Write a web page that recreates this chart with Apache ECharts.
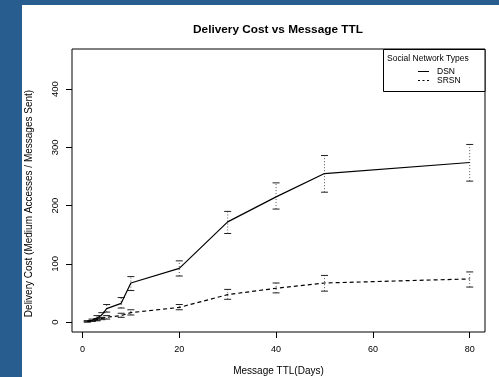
<!DOCTYPE html>
<html>
<head>
<meta charset="utf-8">
<script src="https://cdn.jsdelivr.net/npm/echarts@6/dist/echarts.min.js"></script>
<style>
html,body{margin:0;padding:0;background:#fff;}
#chart{width:499px;height:377px;}
</style>
</head>
<body>
<div id="chart"></div>
<script>
// ---- data ----
var ttlDays = [1, 2, 3, 4, 5, 8, 10, 20, 30, 40, 50, 80];
var dsnCost = [1, 3, 7, 12, 23, 32, 67, 92, 172, 215, 255, 274];
var dsnLow  = [0, 1, 3, 7, 17, 24, 54, 79, 152, 194, 223, 242];
var dsnHigh = [2, 5, 11, 16, 30, 42, 78, 105, 190, 239, 286, 305];
var srsnCost = [1, 2, 4, 6, 8, 11, 16, 25, 47, 58, 67, 74];
var srsnLow  = [0, 1, 2, 4, 5, 8, 12, 21, 39, 50, 53, 60];
var srsnHigh = [2, 3, 6, 8, 11, 15, 21, 30, 56, 67, 80, 86];
var xTicks = [0, 20, 40, 60, 80];
var yTicks = [0, 100, 200, 300, 400];
var legendNames = ['DSN', 'SRSN'];

var FONT = '"Liberation Sans", Arial, sans-serif';

function pairs(xs, ys) { return xs.map(function (x, i) { return [x, ys[i]]; }); }
function errData(xs, lo, hi) { return xs.map(function (x, i) { return [x, lo[i], hi[i]]; }); }

function renderErr(params, api) {
  var x = api.value(0);
  var lo = api.coord([x, api.value(1)]);
  var hi = api.coord([x, api.value(2)]);
  var w = 3.5;
  return {
    type: 'group',
    children: [
      { type: 'line', shape: { x1: lo[0], y1: lo[1], x2: hi[0], y2: hi[1] },
        style: { stroke: '#555', lineWidth: 1, lineDash: [1, 2] } },
      { type: 'line', shape: { x1: hi[0] - w, y1: hi[1], x2: hi[0] + w, y2: hi[1] },
        style: { stroke: '#222', lineWidth: 1 } },
      { type: 'line', shape: { x1: lo[0] - w, y1: lo[1], x2: lo[0] + w, y2: lo[1] },
        style: { stroke: '#222', lineWidth: 1 } }
    ]
  };
}

var chart = echarts.init(document.getElementById('chart'), null, { renderer: 'canvas' });
chart.setOption({
  backgroundColor: '#fff',
  animation: false,
  textStyle: { fontFamily: FONT },
  title: {
    text: 'Delivery Cost vs Message TTL',
    left: 273, top: 19, textAlign: 'center',
    textStyle: { fontFamily: FONT, fontSize: 11.8, fontWeight: 'bold', color: '#000' }
  },
  grid: { left: 72, top: 49, right: 14, bottom: 45, outerBoundsMode: 'none', containLabel: false,
          show: true, borderColor: '#000', borderWidth: 1, backgroundColor: 'transparent' },
  xAxis: {
    type: 'value', min: -2.16, max: 83.16,
    name: 'Message TTL(Days)', nameLocation: 'middle', nameGap: 34,
    nameTextStyle: { fontFamily: FONT, fontSize: 10, color: '#000' },
    axisLine: { show: false, onZero: false },
    splitLine: { show: false },
    axisTick: { show: true, inside: false, length: 6, customValues: xTicks, lineStyle: { color: '#000' } },
    axisLabel: { customValues: xTicks, margin: 13, fontFamily: FONT, fontSize: 9, color: '#000' }
  },
  yAxis: {
    type: 'value', min: -17.2, max: 469,
    name: 'Delivery Cost (Medium Accesses / Messages Sent)', nameLocation: 'middle', nameGap: 38,
    nameTextStyle: { fontFamily: FONT, fontSize: 10, color: '#000', padding: [0, 26, 0, 0] },
    axisLine: { show: false, onZero: false },
    splitLine: { show: false },
    axisTick: { show: true, inside: false, length: 6, customValues: yTicks, lineStyle: { color: '#000' } },
    axisLabel: { customValues: yTicks, rotate: 90, margin: 12, fontFamily: FONT, fontSize: 9.5, color: '#000' }
  },
  graphic: [
    { type: 'rect', shape: { x: 0, y: 0, width: 22, height: 377 }, style: { fill: '#275d8f' }, z: 100 },
    { type: 'rect', shape: { x: 0, y: 0, width: 499, height: 5 }, style: { fill: '#275d8f' }, z: 100 },
    { type: 'rect', shape: { x: 383.5, y: 49.5, width: 101.5, height: 42 }, style: { fill: '#fff', stroke: '#000', lineWidth: 1 }, z: 5 },
    { type: 'text', left: 387, top: 54, style: { text: 'Social Network Types', font: '8.5px ' + FONT, fill: '#000' }, z: 6 },
    { type: 'line', shape: { x1: 418, y1: 71.5, x2: 429, y2: 71.5 }, style: { stroke: '#000', lineWidth: 1 }, z: 6 },
    { type: 'line', shape: { x1: 418, y1: 80.5, x2: 429, y2: 80.5 }, style: { stroke: '#000', lineWidth: 1, lineDash: [2, 2.5] }, z: 6 },
    { type: 'text', left: 437, top: 67, style: { text: legendNames[0], font: '8.5px ' + FONT, fill: '#000' }, z: 6 },
    { type: 'text', left: 437, top: 76, style: { text: legendNames[1], font: '8.5px ' + FONT, fill: '#000' }, z: 6 }
  ],
  series: [
    { name: 'DSN', type: 'line', data: pairs(ttlDays, dsnCost), symbol: 'none', z: 3,
      lineStyle: { color: '#000', width: 1.2, type: 'solid' }, itemStyle: { color: '#000' } },
    { name: 'SRSN', type: 'line', data: pairs(ttlDays, srsnCost), symbol: 'none', z: 3,
      lineStyle: { color: '#000', width: 1.2, type: [4, 3] }, itemStyle: { color: '#000' } },
    { name: 'DSN err', type: 'custom', data: errData(ttlDays, dsnLow, dsnHigh), renderItem: renderErr, z: 2 },
    { name: 'SRSN err', type: 'custom', data: errData(ttlDays, srsnLow, srsnHigh), renderItem: renderErr, z: 2 }
  ]
});
</script>
</body>
</html>
